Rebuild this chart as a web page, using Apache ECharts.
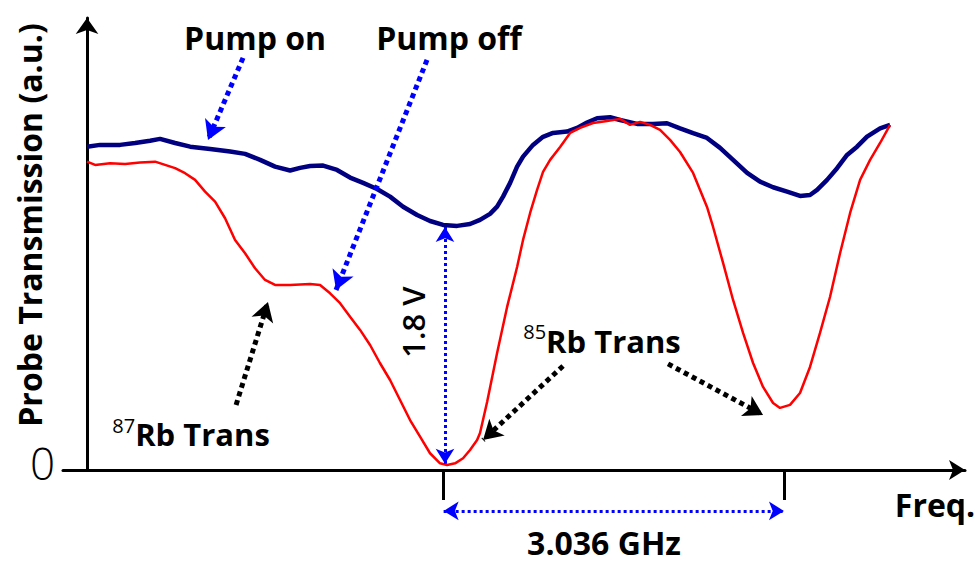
<!DOCTYPE html>
<html>
<head>
<meta charset="utf-8">
<script src="https://cdn.jsdelivr.net/npm/echarts@6/dist/echarts.min.js"></script>
<style>
  html, body { margin: 0; padding: 0; background: #fff; }
  #chart { width: 979px; height: 565px; }
</style>
</head>
<body>
<div id="chart"></div>
<script>
// ---- Data (frequency in GHz from scan start, transmission in V) ----
const freqOn = [0.000,0.116,0.294,0.428,0.561,0.650,0.784,0.918,1.096,1.274,1.407,1.541,1.674,1.808,1.897,1.986,2.102,2.226,2.342,2.458,2.582,2.698,2.814,2.939,3.054,3.170,3.295,3.410,3.499,3.588,3.651,3.704,3.767,3.829,3.882,3.971,4.060,4.149,4.274,4.363,4.452,4.541,4.657,4.746,4.897,5.040,5.164,5.280,5.396,5.520,5.636,5.752,5.877,5.992,6.108,6.233,6.348,6.437,6.500,6.589,6.678,6.767,6.856,6.945,7.061,7.150];
const transOn = [2.375,2.388,2.388,2.402,2.419,2.432,2.402,2.375,2.358,2.339,2.322,2.278,2.228,2.200,2.219,2.233,2.236,2.204,2.148,2.109,2.064,2.008,1.934,1.873,1.829,1.800,1.793,1.807,1.837,1.881,1.934,2.008,2.109,2.228,2.302,2.388,2.447,2.476,2.486,2.513,2.552,2.584,2.591,2.571,2.542,2.542,2.547,2.510,2.474,2.439,2.366,2.278,2.182,2.118,2.077,2.045,2.013,2.020,2.057,2.131,2.217,2.314,2.375,2.449,2.510,2.535];

const freqOff = [0.000,0.072,0.205,0.339,0.472,0.606,0.695,0.784,0.873,0.962,1.051,1.140,1.229,1.318,1.407,1.496,1.585,1.674,1.808,1.986,2.075,2.164,2.253,2.342,2.431,2.520,2.609,2.698,2.787,2.876,2.965,3.054,3.143,3.206,3.277,3.348,3.410,3.473,3.499,3.562,3.651,3.740,3.829,3.882,3.945,4.007,4.060,4.123,4.212,4.301,4.390,4.505,4.630,4.746,4.835,4.924,5.013,5.102,5.191,5.280,5.396,5.520,5.574,5.663,5.752,5.841,5.930,6.019,6.108,6.170,6.259,6.348,6.437,6.526,6.615,6.705,6.794,6.883,6.972,7.061,7.150];
const transOff = [2.265,2.241,2.253,2.248,2.258,2.265,2.241,2.217,2.180,2.131,2.045,1.971,1.849,1.690,1.592,1.482,1.396,1.359,1.359,1.367,1.359,1.298,1.225,1.126,1.029,0.918,0.784,0.661,0.514,0.367,0.245,0.123,0.049,0.037,0.049,0.086,0.147,0.220,0.272,0.500,0.860,1.198,1.491,1.690,1.888,2.057,2.189,2.278,2.373,2.476,2.513,2.549,2.564,2.579,2.535,2.557,2.535,2.498,2.425,2.336,2.182,1.932,1.785,1.521,1.249,1.007,0.786,0.610,0.492,0.456,0.478,0.566,0.757,1.007,1.271,1.594,1.888,2.131,2.278,2.402,2.535];

const tickFreqs = [3.170, 6.206];
const yTickValues = [0];
const xAxisName = 'Freq.';
const yAxisName = 'Probe Transmission (a.u.)';

// ---- Annotations (data coordinates) ----
const blueArrowFrom = [[1.389, 3.027], [3.027, 3.012]];
const blueArrowTo   = [[1.077, 2.424], [2.217, 1.322]];
const blackArrowFrom = [[1.327, 0.478], [4.238, 0.764], [5.173, 0.779]];
const blackArrowTo   = [[1.611, 1.234], [3.526, 0.220], [6.019, 0.404]];
const dipArrowFrom = [[3.187, 1.785], [3.175, -0.301]];
const dipArrowTo   = [[3.187, 0.045], [6.205, -0.301]];
const labelTexts = ['Pump on', 'Pump off', '1.8 V', '{sup|87}{main|Rb Trans}', '{sup|85}{main|Rb Trans}', '3.036 GHz', xAxisName];
const labelPos = [[1.496, 3.180], [3.223, 3.180], [2.902, 1.087], [0.926, 0.264], [4.585, 0.948], [4.603, -0.535], [7.550, -0.250]];
const labelRotate = [0, 0, 90, 0, 0, 0, 0];

const FONT = 'Open Sans';

const chart = echarts.init(document.getElementById('chart'), null, { renderer: 'svg' });

const pair = (xs, ys) => xs.map((x, i) => [x, ys[i]]);

const arrowLines = [];
blueArrowFrom.forEach((p, i) => arrowLines.push([
  { coord: p, symbol: 'none', lineStyle: { color: '#0000ff', width: 5, type: [5, 4] } },
  { coord: blueArrowTo[i], symbol: 'arrow', symbolSize: [17, 19] }
]));
blackArrowFrom.forEach((p, i) => arrowLines.push([
  { coord: p, symbol: 'none', lineStyle: { color: '#000000', width: 5, type: [5, 4] } },
  { coord: blackArrowTo[i], symbol: 'arrow', symbolSize: [17, 19] }
]));
dipArrowFrom.forEach((p, i) => arrowLines.push([
  { coord: p, symbol: 'arrow', symbolSize: [14, 15], lineStyle: { color: '#0000ff', width: 3, type: [3, 3] } },
  { coord: dipArrowTo[i], symbol: 'arrow', symbolSize: [14, 15] }
]));

const labelPoints = labelTexts.map((t, i) => ({
  coord: labelPos[i],
  value: 0,
  label: {
    show: true,
    position: 'inside',
    formatter: t,
    rotate: labelRotate[i],
    color: '#000',
    fontFamily: FONT,
    fontSize: i === 2 ? 31 : 32,
    fontWeight: i === 2 ? 600 : 'bold',
    lineHeight: 30,
    rich: {
      sup: { fontSize: 20, fontFamily: FONT, fontWeight: 'normal', color: '#000', verticalAlign: 'top', lineHeight: 38 },
      main: { fontSize: 31, fontFamily: FONT, fontWeight: 'bold', color: '#000', lineHeight: 38 }
    }
  }
}));

chart.setOption({
  animation: false,
  backgroundColor: '#ffffff',
  grid: [
    { left: 63, right: 14, top: 18, bottom: 95, containLabel: false, outerBoundsMode: 'none' },
    { left: 63, right: 14, top: 18, bottom: 1.1, containLabel: false, outerBoundsMode: 'none' }
  ],
  xAxis: [
    {
      type: 'value', gridIndex: 0, min: -0.214, max: 7.817,
      axisLine: { show: true, onZero: true, symbol: ['none', 'arrow'], symbolSize: [15, 16], lineStyle: { color: '#000', width: 3 } },
      axisTick: { show: true, customValues: tickFreqs, length: 30, inside: false, lineStyle: { color: '#000', width: 3 } },
      axisLabel: { show: false },
      splitLine: { show: false }
    },
    { type: 'value', gridIndex: 1, min: -0.214, max: 7.817, show: false, splitLine: { show: false } }
  ],
  yAxis: [
    {
      type: 'value', gridIndex: 0, min: 0, max: 3.32,
      axisLine: { show: true, onZero: true, symbol: ['none', 'arrow'], symbolSize: [17, 16], lineStyle: { color: '#000', width: 3 } },
      axisTick: { show: false },
      axisLabel: { show: true, customValues: yTickValues, fontSize: 44, fontWeight: 300, fontFamily: FONT, color: '#000', margin: 8, verticalAlign: 'bottom', lineHeight: 14 },
      splitLine: { show: false },
      name: yAxisName,
      nameLocation: 'middle',
      nameRotate: 90,
      nameGap: 18,
      nameMoveOverlap: false,
      nameTextStyle: { fontSize: 32, fontWeight: 'bold', fontFamily: FONT, color: '#000', padding: [0, 0, 0, 38] }
    },
    { type: 'value', gridIndex: 1, min: -0.69, max: 3.32, show: false, splitLine: { show: false } }
  ],
  series: [
    {
      name: 'Pump on', type: 'line', xAxisIndex: 0, yAxisIndex: 0,
      data: pair(freqOn, transOn), showSymbol: false, symbol: 'none',
      lineStyle: { color: '#000080', width: 4.5 }, z: 2
    },
    {
      name: 'Pump off', type: 'line', xAxisIndex: 0, yAxisIndex: 0,
      data: pair(freqOff, transOff), showSymbol: false, symbol: 'none',
      lineStyle: { color: '#ff0000', width: 2.5 }, z: 3
    },
    {
      name: 'annotations', type: 'line', xAxisIndex: 1, yAxisIndex: 1,
      data: [], symbol: 'none', z: 4,
      markLine: {
        silent: true, animation: false,
        label: { show: false },
        emphasis: { disabled: true },
        data: arrowLines
      },
      markPoint: {
        silent: true, animation: false,
        symbol: 'circle', symbolSize: 1,
        itemStyle: { color: 'rgba(0,0,0,0)' },
        data: labelPoints
      }
    }
  ]
});
</script>
</body>
</html>
